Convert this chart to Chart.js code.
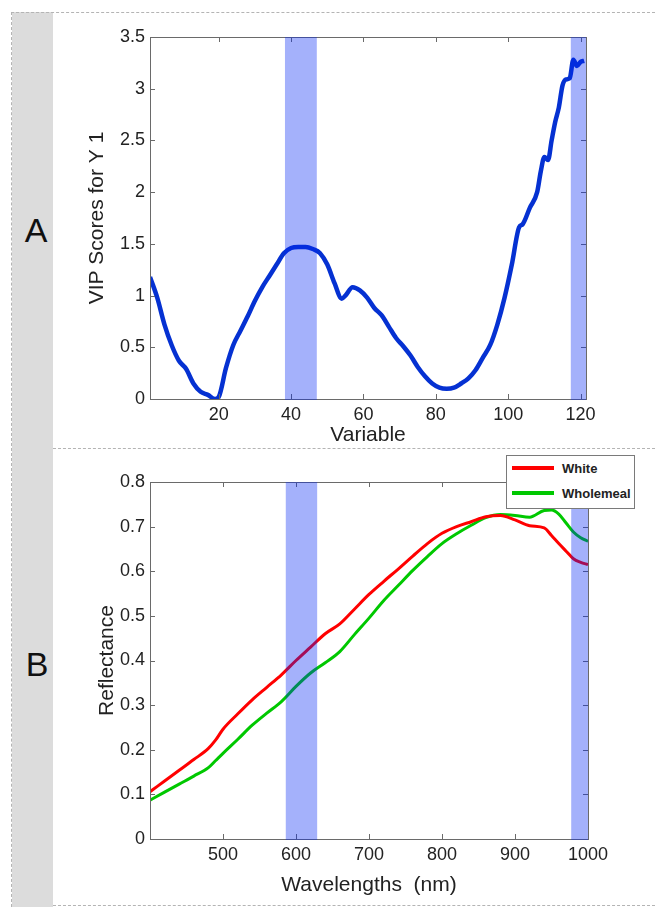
<!DOCTYPE html>
<html>
<head>
<meta charset="utf-8">
<script src="https://cdn.jsdelivr.net/npm/chart.js@4.4.1/dist/chart.umd.min.js"></script>
<style>
  html, body { margin: 0; padding: 0; background: #fff; }
  body { width: 655px; height: 907px; position: relative; overflow: hidden; font-family: Arial, "Liberation Sans", sans-serif; }
  .strip { position: absolute; left: 12px; top: 12px; width: 41px; height: 895px; background: #dcdcdc; }
  .dash-h { position: absolute; height: 0; border-top: 1px dashed #b4b4b4; }
  .dash-v { position: absolute; width: 0; border-left: 1px dashed #b4b4b4; }
  .panel-letter { position: absolute; font-size: 34px; color: #111; transform: translate(-50%, -50%); line-height: 1; }
  canvas { position: absolute; }
  #legend { position: absolute; left: 506px; top: 455px; width: 127px; height: 52px; border: 1px solid #7a7a7a; background: #fff; }
  #legend .row { position: absolute; left: 5px; height: 20px; display: flex; align-items: center; }
  #legend .swatch { width: 42px; height: 4px; margin-right: 8px; }
  #legend .txt { font-weight: bold; font-size: 13px; color: #222; }
</style>
</head>
<body>
<div class="strip"></div>
<div class="dash-v" style="left:11px; top:12px; height:895px;"></div>
<div class="dash-h" style="left:11px; top:12px; width:644px;"></div>
<div class="dash-h" style="left:53px; top:448px; width:602px;"></div>
<div class="dash-h" style="left:53px; top:905px; width:602px;"></div>
<div class="panel-letter" style="left:36px; top:230px;">A</div>
<div class="panel-letter" style="left:37px; top:664px;">B</div>

<canvas id="vipChart" width="575" height="436" style="left:80px; top:12px;"></canvas>
<canvas id="reflChart" width="575" height="457" style="left:80px; top:450px;"></canvas>
<div id="legend"></div>

<script>
// Pannello A: punteggi VIP
const vipVariable = [1, 3, 5, 7, 9, 11, 13, 15, 17, 19, 20, 22, 24, 26, 28, 30, 32, 34, 36, 38,
  40, 42, 44, 46, 48, 50, 52, 54, 55, 57, 59, 61, 63, 65, 67, 69, 71, 73, 75, 77,
  79, 81, 83, 85, 87, 89, 91, 93, 95, 97, 99, 101, 103, 104, 106, 108, 109, 110, 111, 112,
  113, 114, 115, 116, 117, 118, 119, 120, 121];
const vipScore = [1.18, 0.98, 0.72, 0.52, 0.37, 0.29, 0.15, 0.07, 0.04, 0.00, 0.02, 0.30, 0.52, 0.66, 0.80, 0.95, 1.08, 1.19, 1.30, 1.41,
  1.46, 1.47, 1.47, 1.45, 1.41, 1.30, 1.12, 0.97, 1.00, 1.08, 1.05, 0.98, 0.88, 0.81, 0.70, 0.59, 0.51, 0.42, 0.31, 0.22,
  0.15, 0.11, 0.10, 0.11, 0.15, 0.20, 0.28, 0.40, 0.52, 0.72, 0.98, 1.30, 1.66, 1.69, 1.85, 2.00, 2.20, 2.34, 2.31, 2.50,
  2.68, 2.82, 3.03, 3.09, 3.10, 3.28, 3.22, 3.26, 3.27];
const vipXTicks = [20, 40, 60, 80, 100, 120];
const vipYTicks = [0, 0.5, 1, 1.5, 2, 2.5, 3, 3.5];
const vipBands = [[38.3, 47.1], [117.3, 121.5]];

// Pannello B: riflettanza
const wavelengths = [400, 420, 440, 460, 480, 490, 500, 520, 540, 560, 580, 600, 620, 640, 660, 680, 700, 720,
  740, 760, 780, 800, 820, 840, 860, 880, 900, 920, 940, 950, 960, 970, 980, 990, 1000];
const whiteRefl = [0.106, 0.130, 0.154, 0.178, 0.203, 0.222, 0.246, 0.280, 0.312, 0.340, 0.368, 0.400, 0.430, 0.460, 0.482, 0.515, 0.548, 0.577,
  0.605, 0.634, 0.662, 0.685, 0.700, 0.711, 0.722, 0.725, 0.715, 0.702, 0.697, 0.680, 0.662, 0.645, 0.628, 0.620, 0.615];
const wholemealRefl = [0.087, 0.105, 0.123, 0.141, 0.160, 0.176, 0.192, 0.223, 0.255, 0.282, 0.308, 0.342, 0.372, 0.395, 0.420, 0.458, 0.495, 0.534,
  0.568, 0.602, 0.633, 0.662, 0.684, 0.703, 0.720, 0.727, 0.725, 0.721, 0.736, 0.737, 0.728, 0.708, 0.688, 0.675, 0.667];
const seriesLabels = ["White", "Wholemeal"];
const seriesColors = ["#ff0000", "#00c800"];
const wlXTicks = [500, 600, 700, 800, 900, 1000];
const reflYTicks = [0, 0.1, 0.2, 0.3, 0.4, 0.5, 0.6, 0.7, 0.8];
const wlBands = [[586, 629], [977, 1000]];

const FONT = 'Arial, "Liberation Sans", sans-serif';
const textColor = '#222';

// cornice stile MATLAB: box, tacche verso l'interno e bande semitrasparenti sopra le linee
const frame = {
  id: 'frame',
  afterDatasetsDraw(chart, args, opts) {
    const { ctx, chartArea: a, scales: { x, y } } = chart;
    ctx.save();
    ctx.strokeStyle = '#6a6a6a';
    ctx.lineWidth = 1;
    ctx.beginPath();
    x.ticks.forEach(t => {
      const px = Math.round(x.getPixelForValue(t.value)) + 0.5;
      ctx.moveTo(px, a.bottom); ctx.lineTo(px, a.bottom - 5);
      ctx.moveTo(px, a.top); ctx.lineTo(px, a.top + 5);
    });
    y.ticks.forEach(t => {
      const py = Math.round(y.getPixelForValue(t.value)) + 0.5;
      ctx.moveTo(a.left, py); ctx.lineTo(a.left + 5, py);
      ctx.moveTo(a.right, py); ctx.lineTo(a.right - 5, py);
    });
    ctx.stroke();
    ctx.strokeRect(Math.round(a.left) + 0.5, Math.round(a.top) + 0.5, Math.round(a.width), Math.round(a.height));

    ctx.fillStyle = 'rgba(0,36,244,0.357)';
    (opts.bands || []).forEach(([b0, b1]) => {
      const p0 = x.getPixelForValue(b0), p1 = x.getPixelForValue(b1);
      ctx.fillRect(p0, a.top, p1 - p0, a.height + 1);
    });
    ctx.restore();
  }
};

function fixedTicks(values) {
  return scale => { scale.ticks = values.map(v => ({ value: v })); };
}

function axisOpts(cfg) {
  return {
    type: 'linear',
    min: cfg.min, max: cfg.max,
    grid: { display: false, drawTicks: false },
    border: { display: false },
    afterBuildTicks: fixedTicks(cfg.ticks),
    afterFit: cfg.fit,
    ticks: {
      autoSkip: false, maxRotation: 0, padding: cfg.pad,
      color: textColor, font: { family: FONT, size: 18 },
      callback: v => String(v)
    },
    title: {
      display: true, text: cfg.title, color: textColor,
      font: { family: FONT, size: 21 }, padding: cfg.titlePad
    }
  };
}

new Chart(document.getElementById('vipChart'), {
  type: 'line',
  data: {
    datasets: [{
      data: vipVariable.map((v, i) => ({ x: v, y: vipScore[i] })),
      borderColor: '#0531d2', borderWidth: 4.5, pointRadius: 0,
      cubicInterpolationMode: 'monotone', fill: false
    }]
  },
  options: {
    responsive: false, animation: false, devicePixelRatio: 1,
    layout: { padding: { left: 0, top: 25, right: 69, bottom: 0 } },
    plugins: { legend: { display: false }, tooltip: { enabled: false }, frame: { bands: vipBands } },
    scales: {
      x: axisOpts({ min: 1, max: 121.5, ticks: vipXTicks, pad: 5, title: 'Variable',
        titlePad: { top: 0, bottom: 0 }, fit: s => { s.height = 49; } }),
      y: axisOpts({ min: 0, max: 3.5, ticks: vipYTicks, pad: 5, title: 'VIP Scores for Y 1',
        titlePad: { top: 5, bottom: 0 }, fit: s => { s.width = 70; } })
    }
  },
  plugins: [frame]
});

new Chart(document.getElementById('reflChart'), {
  type: 'line',
  data: {
    datasets: [whiteRefl, wholemealRefl].map((vals, k) => ({
      label: seriesLabels[k],
      data: wavelengths.map((w, i) => ({ x: w, y: vals[i] })),
      borderColor: seriesColors[k], borderWidth: 3, pointRadius: 0,
      cubicInterpolationMode: 'monotone', fill: false
    }))
  },
  options: {
    responsive: false, animation: false, devicePixelRatio: 1,
    layout: { padding: { left: 0, top: 32, right: 67, bottom: 0 } },
    plugins: { legend: { display: false }, tooltip: { enabled: false }, frame: { bands: wlBands } },
    scales: {
      x: axisOpts({ min: 400, max: 1000, ticks: wlXTicks, pad: 5, title: 'Wavelengths  (nm)',
        titlePad: { top: 0, bottom: 9 }, fit: s => { s.height = 68; } }),
      y: axisOpts({ min: 0, max: 0.8, ticks: reflYTicks, pad: 5, title: 'Reflectance',
        titlePad: { top: 15, bottom: 0 }, fit: s => { s.width = 70; } })
    }
  },
  plugins: [frame]
});

// legenda costruita dalle serie
const legend = document.getElementById('legend');
seriesLabels.forEach((lab, k) => {
  const row = document.createElement('div');
  row.className = 'row';
  row.style.top = (k === 0 ? 2 : 27) + 'px';
  row.innerHTML = `<span class="swatch" style="background:${seriesColors[k]}"></span><span class="txt">${lab}</span>`;
  legend.appendChild(row);
});
</script>
</body>
</html>
